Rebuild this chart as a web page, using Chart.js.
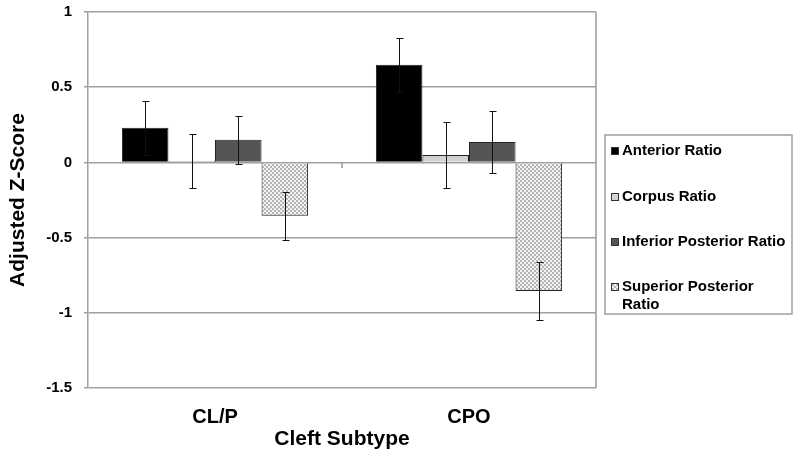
<!DOCTYPE html>
<html>
<head>
<meta charset="utf-8">
<script src="https://cdn.jsdelivr.net/npm/chart.js@4.4.1/dist/chart.umd.min.js"></script>
<style>
  html, body { margin: 0; padding: 0; background: #fff; }
</style>
</head>
<body>
<canvas id="graficoZ" width="800" height="458"></canvas>
<script>
const categorias = ["CL/P", "CPO"];
const series = ["Anterior Ratio", "Corpus Ratio", "Inferior Posterior Ratio", "Superior Posterior Ratio"];
const anterior = [0.23, 0.65];
const corpus = [0.01, 0.05];
const inferior = [0.15, 0.135];
const superior = [-0.355, -0.855];
const errAnterior = [0.18, 0.18];
const errCorpus = [0.18, 0.22];
const errInferior = [0.16, 0.205];
const errSuperior = [0.16, 0.19];
const yTicks = [-1.5, -1, -0.5, 0, 0.5, 1];

const fuente = "'Liberation Sans', Arial, sans-serif";

// relleno punteado para la ultima serie
function patronPuntos() {
  const c = document.createElement("canvas");
  c.width = 4; c.height = 4;
  const g = c.getContext("2d");
  g.fillStyle = "#f2f2f2"; g.fillRect(0, 0, 4, 4);
  g.fillStyle = "#b4b4b4"; g.fillRect(0, 0, 2, 2); g.fillRect(2, 2, 2, 2);
  return g.createPattern(c, "repeat");
}

const barrasError = {
  id: "barrasError",
  afterDatasetsDraw(chart) {
    const ctx = chart.ctx, y = chart.scales.y;
    ctx.save();
    ctx.strokeStyle = "#111";
    ctx.lineWidth = 1;
    chart.data.datasets.forEach((ds, i) => {
      chart.getDatasetMeta(i).data.forEach((bar, j) => {
        const v = ds.data[j], e = ds.errores[j];
        const x = Math.round(bar.x) + 0.5;
        const y1 = Math.round(y.getPixelForValue(v + e)) + 0.5;
        const y2 = Math.round(y.getPixelForValue(v - e)) + 0.5;
        ctx.beginPath();
        ctx.moveTo(x, y1); ctx.lineTo(x, y2);
        ctx.moveTo(x - 3, y1); ctx.lineTo(x + 4, y1);
        ctx.moveTo(x - 3, y2); ctx.lineTo(x + 4, y2);
        ctx.stroke();
      });
    });
    // marcas de categoria sobre el cero y borde derecho
    const xs = chart.scales.x, a = chart.chartArea;
    const y0 = Math.round(y.getPixelForValue(0));
    ctx.strokeStyle = "#9a9a9a";
    ctx.lineWidth = 1.5;
    ctx.beginPath();
    const medio = (xs.getPixelForValue(0) + xs.getPixelForValue(1)) / 2;
    ctx.moveTo(Math.round(medio), y0); ctx.lineTo(Math.round(medio), y0 + 6);
    ctx.moveTo(a.right, a.top); ctx.lineTo(a.right, a.bottom);
    ctx.stroke();
    ctx.restore();
  }
};

const leyenda = {
  id: "leyenda",
  afterDraw(chart) {
    const ctx = chart.ctx;
    ctx.save();
    ctx.strokeStyle = "#a0a0a0";
    ctx.lineWidth = 1.5;
    ctx.strokeRect(605, 135, 187, 179);
    ctx.font = "bold 15px " + fuente;
    ctx.textBaseline = "middle";
    ctx.fillStyle = "#000";
    const centros = [151, 197, 242, 287];
    chart.data.datasets.forEach((ds, i) => {
      const yc = centros[i];
      ctx.fillStyle = ds.backgroundColor;
      ctx.fillRect(611, yc - 4, 8, 8);
      ctx.strokeStyle = "#333";
      ctx.lineWidth = 1;
      ctx.strokeRect(611.5, yc - 3.5, 7, 7);
      ctx.fillStyle = "#000";
      // partir el texto si no cabe
      const palabras = ds.label.split(" ");
      let lineas = [], actual = "";
      palabras.forEach(p => {
        const prueba = actual ? actual + " " + p : p;
        if (ctx.measureText(prueba).width > 168 && actual) { lineas.push(actual); actual = p; }
        else actual = prueba;
      });
      lineas.push(actual);
      lineas.forEach((l, k) => ctx.fillText(l, 622, yc + k * 18));
    });
    ctx.restore();
  }
};

const ctx = document.getElementById("graficoZ").getContext("2d");
const puntos = patronPuntos();

new Chart(ctx, {
  type: "bar",
  data: {
    labels: categorias,
    datasets: [
      { label: series[0], data: anterior, errores: errAnterior, backgroundColor: "#000000" },
      { label: series[1], data: corpus, errores: errCorpus, backgroundColor: "#d2d2d2" },
      { label: series[2], data: inferior, errores: errInferior, backgroundColor: "#555555" },
      { label: series[3], data: superior, errores: errSuperior, backgroundColor: puntos }
    ].map(d => Object.assign(d, {
      borderColor: "#222",
      borderWidth: 1,
      categoryPercentage: 0.733,
      barPercentage: 1.0
    }))
  },
  options: {
    responsive: false,
    animation: false,
    layout: { padding: { top: 12, right: 204, left: 0, bottom: 0 } },
    plugins: {
      legend: { display: false },
      tooltip: { enabled: false }
    },
    scales: {
      x: {
        grid: { display: false, drawTicks: false },
        border: { display: false },
        ticks: { color: "#000", font: { family: fuente, size: 20, weight: "bold" }, padding: 17 },
        title: {
          display: true, text: "Cleft Subtype", color: "#000",
          font: { family: fuente, size: 21, weight: "bold" },
          padding: { top: 0, bottom: 6 }
        },
        afterFit(s) { s.height = 70; s.paddingLeft = 0; s.paddingRight = 0; }
      },
      y: {
        min: -1.5,
        max: 1,
        afterBuildTicks(s) { s.ticks = yTicks.map(v => ({ value: v })); },
        grid: { color: "#a0a0a0", lineWidth: 1.5, tickLength: 4 },
        border: { display: true, color: "#a0a0a0", width: 1.5 },
        ticks: {
          color: "#000", font: { family: fuente, size: 15, weight: "bold" }, padding: 12,
          callback: v => String(v)
        },
        title: {
          display: true, text: "Adjusted Z-Score", color: "#000",
          font: { family: fuente, size: 21, weight: "bold" },
          padding: { top: 6, bottom: 0 }
        },
        afterFit(s) { s.width = 88; s.paddingTop = 0; s.paddingBottom = 0; }
      }
    }
  },
  plugins: [barrasError, leyenda]
});
</script>
</body>
</html>
